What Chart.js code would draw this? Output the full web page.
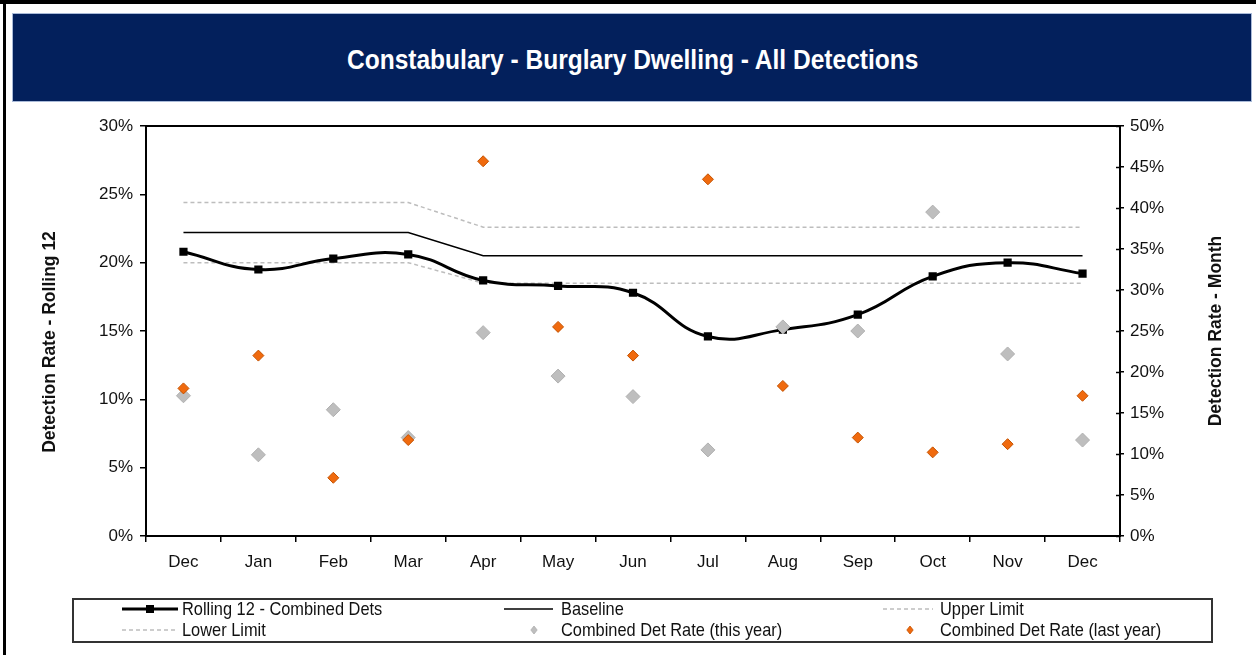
<!DOCTYPE html>
<html><head><meta charset="utf-8">
<script src="https://cdn.jsdelivr.net/npm/chart.js@4.4.1/dist/chart.umd.min.js"></script>
<style>
html,body{margin:0;padding:0;background:#fff;}
#wrap{position:relative;width:1256px;height:655px;overflow:hidden;font-family:'Liberation Sans',Arial,sans-serif;}
#frameTop{position:absolute;left:0;top:0;width:1256px;height:4px;background:#000;}
#frameLeft{position:absolute;left:3px;top:0;width:3px;height:655px;background:#000;}
#banner{position:absolute;left:12px;top:13px;width:1240px;height:89px;background:#03205C;border:1px solid #a9bad8;box-sizing:border-box;}
#title{position:absolute;left:0;top:0;color:#fff;font-weight:bold;font-size:28px;line-height:32px;white-space:nowrap;transform-origin:0 0;}
#chart{position:absolute;left:0;top:0;}
#legend{position:absolute;left:72px;top:598px;width:1141px;height:45px;border:2px solid #333;box-sizing:border-box;}
.lbl{position:absolute;font-size:19px;color:#111;line-height:20px;white-space:nowrap;transform-origin:0 50%;}
#samples{position:absolute;left:0;top:0;}
</style></head>
<body>
<div id="wrap">
  <div id="frameTop"></div><div id="frameLeft"></div>
  <div id="banner"></div>
  <div id="title">Constabulary - Burglary Dwelling - All Detections</div>
  <canvas id="chart" width="1256" height="655"></canvas>
  <div id="legend"></div>
  <svg id="samples" width="1256" height="655"></svg>
</div>
<script>
const months = ['Dec','Jan','Feb','Mar','Apr','May','Jun','Jul','Aug','Sep','Oct','Nov','Dec'];
const rolling12 = [20.8,19.5,20.3,20.6,18.7,18.3,17.8,14.6,15.1,16.2,19.0,20.0,19.2];
const baseline = [22.2,22.2,22.2,22.2,20.5,20.5,20.5,20.5,20.5,20.5,20.5,20.5,20.5];
const upperLimit = [24.4,24.4,24.4,24.4,22.6,22.6,22.6,22.6,22.6,22.6,22.6,22.6,22.6];
const lowerLimit = [20.0,20.0,20.0,20.0,18.5,18.5,18.5,18.5,18.5,18.5,18.5,18.5,18.5];
const thisYear = [17.1,9.9,15.4,12.0,24.8,19.5,17.0,10.5,25.5,25.0,39.5,22.2,11.7];
const lastYear = [18.0,22.0,7.1,11.7,45.7,25.5,22.0,43.5,18.3,12.0,10.2,11.2,17.1];
const leftTicks = [0,5,10,15,20,25,30];
const rightTicks = [0,5,10,15,20,25,30,35,40,45,50];
const leftTitle = 'Detection Rate - Rolling 12';
const rightTitle = 'Detection Rate - Month';

const tickFont = {family:"'Liberation Sans', Arial, sans-serif", size:17};

const datasets = [
  {label:'Rolling 12 - Combined Dets', data:rolling12, yAxisID:'y', borderColor:'#000', backgroundColor:'#000', borderWidth:3, pointStyle:'rect', pointRadius:5.8, pointBorderWidth:0, tension:0.45, order:3},
  {label:'Baseline', data:baseline, yAxisID:'y', borderColor:'#000', borderWidth:1.5, pointRadius:0, tension:0, order:4},
  {label:'Upper Limit', data:upperLimit, yAxisID:'y', borderColor:'#BDBDBD', borderWidth:1.5, borderDash:[4,3], pointRadius:0, tension:0, order:5},
  {label:'Lower Limit', data:lowerLimit, yAxisID:'y', borderColor:'#BDBDBD', borderWidth:1.5, borderDash:[4,3], pointRadius:0, tension:0, order:6},
  {label:'Combined Det Rate (this year)', data:thisYear, yAxisID:'y2', showLine:false, pointStyle:'rectRot', pointRadius:7, backgroundColor:'#BEBEBE', borderColor:'#B0B0B0', pointBorderWidth:1, order:2},
  {label:'Combined Det Rate (last year)', data:lastYear, yAxisID:'y2', showLine:false, pointStyle:'rectRot', pointRadius:5.5, backgroundColor:'#F06A0E', borderColor:'#C45200', pointBorderWidth:1, order:1}
];

const boxPlugin = {
  id:'box',
  beforeDatasetsDraw(chart){
    const {ctx, chartArea:a} = chart;
    ctx.save();
    ctx.strokeStyle = '#000'; ctx.lineWidth = 2;
    ctx.strokeRect(a.left, a.top, a.right - a.left, a.bottom - a.top);
    const s = chart.scales.y2;
    ctx.lineWidth = 1.5;
    rightTicks.forEach(v => {
      const py = Math.round(s.getPixelForValue(v)) + 0.5;
      ctx.beginPath(); ctx.moveTo(a.right - 4, py); ctx.lineTo(a.right, py); ctx.stroke();
    });
    ctx.restore();
  },
  afterDraw(chart){
    const {ctx} = chart;
    [[leftTitle, 50, 342], [rightTitle, 1216, 331]].forEach(([txt, x, y]) => {
      ctx.save();
      ctx.fillStyle = '#111';
      ctx.font = "bold 17.5px 'Liberation Sans', Arial, sans-serif";
      ctx.textAlign = 'center'; ctx.textBaseline = 'middle';
      ctx.translate(x, y); ctx.rotate(-Math.PI/2); ctx.fillText(txt, 0, 0);
      ctx.restore();
    });
  }
};

const chart = new Chart(document.getElementById('chart'), {
  type:'line',
  data:{labels:months, datasets},
  options:{
    responsive:false, animation:false, devicePixelRatio:1,
    layout:{padding:{top:126,left:0,right:0,bottom:0}},
    plugins:{legend:{display:false}, tooltip:{enabled:false}, title:{display:false}},
    scales:{
      x:{type:'category', offset:true,
         grid:{offset:true, drawOnChartArea:false, tickLength:6, color:'#000', lineWidth:1.5},
         border:{display:true, color:'#000', width:2},
         ticks:{font:tickFont, color:'#111', padding:10, maxRotation:0, autoSkip:false},
         afterFit(s){ s.height = 119; }},
      y:{position:'left', min:0, max:30,
         afterBuildTicks(s){ s.ticks = leftTicks.map(v=>({value:v})); },
         grid:{drawOnChartArea:false, tickLength:6, color:'#000', lineWidth:1.5},
         border:{display:true, color:'#000', width:2},
         ticks:{font:tickFont, color:'#111', padding:7, callback:v=>v+'%'},
         afterFit(s){ s.width = 146; }},
      y2:{position:'right', min:0, max:50,
         afterBuildTicks(s){ s.ticks = rightTicks.map(v=>({value:v})); },
         grid:{drawOnChartArea:false, tickLength:4, color:'#000', lineWidth:1.5},
         border:{display:true, color:'#000', width:2},
         ticks:{font:tickFont, color:'#111', padding:6, callback:v=>v+'%'},
         afterFit(s){ s.width = 136; }}
    }
  },
  plugins:[boxPlugin]
});

// Title: fit to the reference's narrow width
const title = document.getElementById('title');
const tw = title.scrollWidth;
const tsx = 571 / tw;
title.style.transform = `scaleX(${tsx})`;
title.style.left = (632 - 571/2) + 'px';
title.style.top = (60 - 16) + 'px';

// Legend (HTML text, samples drawn from dataset styles)
const legendSlots = [
  {sx:122, ex:178, tx:182, y:609},
  {sx:504, ex:553, tx:561, y:609},
  {sx:883, ex:933, tx:940, y:609},
  {sx:122, ex:178, tx:182, y:630},
  {sx:508, ex:560, tx:561, y:630},
  {sx:884, ex:936, tx:940, y:630}
];
const wrap = document.getElementById('wrap');
const svg = document.getElementById('samples');
const NS = 'http://www.w3.org/2000/svg';
let lsx = null;
datasets.forEach((d,i) => {
  const p = legendSlots[i];
  const t = document.createElement('div');
  t.className = 'lbl'; t.textContent = d.label;
  t.style.left = p.tx + 'px'; t.style.top = (p.y - 10) + 'px';
  wrap.appendChild(t);
  if (lsx === null) lsx = 200 / t.scrollWidth;
  t.style.transform = `scaleX(${lsx})`;
  const cx = (p.sx + p.ex) / 2;
  if (d.showLine !== false) {
    const l = document.createElementNS(NS,'line');
    l.setAttribute('x1',p.sx); l.setAttribute('x2',p.ex); l.setAttribute('y1',p.y); l.setAttribute('y2',p.y);
    l.setAttribute('stroke',d.borderColor); l.setAttribute('stroke-width',d.borderWidth);
    if (d.borderDash) l.setAttribute('stroke-dasharray',d.borderDash.join(' '));
    svg.appendChild(l);
  }
  if (d.pointStyle === 'rect') {
    const r = document.createElementNS(NS,'rect');
    r.setAttribute('x',cx-4); r.setAttribute('y',p.y-4); r.setAttribute('width',8); r.setAttribute('height',8);
    r.setAttribute('fill',d.backgroundColor); svg.appendChild(r);
  } else if (d.pointStyle === 'rectRot') {
    const rr = 4;
    const g = document.createElementNS(NS,'polygon');
    g.setAttribute('points', `${cx},${p.y-rr} ${cx+rr*0.8},${p.y} ${cx},${p.y+rr} ${cx-rr*0.8},${p.y}`);
    g.setAttribute('fill',d.backgroundColor); g.setAttribute('stroke',d.borderColor); g.setAttribute('stroke-width',0.8);
    svg.appendChild(g);
  }
});
</script>
</body></html>
